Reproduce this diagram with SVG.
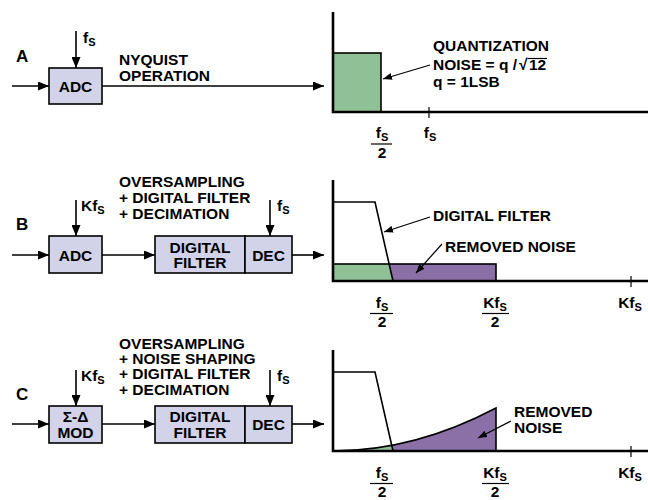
<svg xmlns="http://www.w3.org/2000/svg" width="648" height="500" viewBox="0 0 648 500">
<defs>
<marker id="ah" markerUnits="userSpaceOnUse" markerWidth="11" markerHeight="9" refX="11" refY="4.5" orient="auto"><path d="M0,0 L11,4.5 L0,9 z" fill="#000"/></marker>
<marker id="sh" markerUnits="userSpaceOnUse" markerWidth="9" markerHeight="7" refX="9" refY="3.5" orient="auto"><path d="M0,0 L9,3.5 L0,7 z" fill="#000"/></marker>
<style>
text{font-family:"Liberation Sans",Arial,sans-serif;font-weight:bold;font-size:15.5px;fill:#000}
.big{font-size:17px}
.sub{font-size:11px}
.c{text-anchor:middle}
.box{fill:#d2d3e8;stroke:#000;stroke-width:1.6}
.w{fill:none;stroke:#000;stroke-width:1.6}
.ar{fill:none;stroke:#000;stroke-width:1.6;marker-end:url(#ah)}
.cl{fill:none;stroke:#000;stroke-width:1.2;marker-end:url(#sh)}
.ax{fill:none;stroke:#000;stroke-width:2.6}
.g{fill:#90c096}
.p{fill:#8b70a8}
.t{stroke:#000;stroke-width:1.2}
</style>
</defs>

<g id="connectors">
<line class="ar" x1="12" y1="86" x2="49" y2="86"/>
<line class="ar" x1="76" y1="31" x2="76" y2="68"/>
<line class="ar" x1="102" y1="86" x2="324" y2="86"/>
<line class="ar" x1="12" y1="255" x2="49" y2="255"/>
<line class="ar" x1="76" y1="200" x2="76" y2="236"/>
<line class="ar" x1="102" y1="255" x2="155" y2="255"/>
<line class="ar" x1="270" y1="200" x2="270" y2="236"/>
<line class="ar" x1="292" y1="255" x2="324" y2="255"/>
<line class="ar" x1="12" y1="424" x2="49" y2="424"/>
<line class="ar" x1="76" y1="370" x2="76" y2="406"/>
<line class="ar" x1="102" y1="424" x2="155" y2="424"/>
<line class="ar" x1="270" y1="370" x2="270" y2="406"/>
<line class="ar" x1="292" y1="424" x2="324" y2="424"/>
</g>

<g id="labels-left">
<text class="big" x="16" y="62">A</text>
<text class="big" x="16" y="230">B</text>
<text class="big" x="16" y="400">C</text>
<text x="83" y="43">f<tspan class="sub" dy="2.5">S</tspan></text>
<text x="119" y="65">NYQUIST</text>
<text x="119" y="81">OPERATION</text>
<text x="81" y="211">Kf<tspan class="sub" dy="2.5">S</tspan></text>
<text x="277" y="211">f<tspan class="sub" dy="2.5">S</tspan></text>
<text x="119" y="187">OVERSAMPLING</text>
<text x="119" y="203">+ DIGITAL FILTER</text>
<text x="119" y="219">+ DECIMATION</text>
<text x="81" y="381">Kf<tspan class="sub" dy="2.5">S</tspan></text>
<text x="277" y="381">f<tspan class="sub" dy="2.5">S</tspan></text>
<text x="119" y="348.5">OVERSAMPLING</text>
<text x="119" y="364">+ NOISE SHAPING</text>
<text x="119" y="379">+ DIGITAL FILTER</text>
<text x="119" y="394.5">+ DECIMATION</text>
</g>

<g id="adcA"><rect class="box" x="49" y="68" width="53" height="36"/><text class="c" x="75.5" y="92">ADC</text></g>
<g id="adcB"><rect class="box" x="49" y="236" width="53" height="37"/><text class="c" x="75.5" y="260.5">ADC</text></g>
<g id="filterB"><rect class="box" x="155" y="236" width="90" height="37"/><text class="c" x="200" y="253">DIGITAL</text><text class="c" x="200" y="268">FILTER</text></g>
<g id="decB"><rect class="box" x="245" y="236" width="47" height="37"/><text class="c" x="268.5" y="260.5">DEC</text></g>
<g id="modC"><rect class="box" x="49" y="406" width="53" height="37"/><text class="c" x="75.5" y="422">Σ-Δ</text><text class="c" x="75.5" y="438">MOD</text></g>
<g id="filterC"><rect class="box" x="155" y="406" width="90" height="37"/><text class="c" x="200" y="422">DIGITAL</text><text class="c" x="200" y="438">FILTER</text></g>
<g id="decC"><rect class="box" x="245" y="406" width="47" height="37"/><text class="c" x="268.5" y="430">DEC</text></g>

<g id="chartA">
<rect class="g" x="333" y="53" width="48" height="59" stroke="#000" stroke-width="1.6"/>
<polyline class="ax" points="333,12 333,112 648,112"/>
<line class="t" x1="429" y1="107" x2="429" y2="118"/>
<text class="c" x="382" y="138">f<tspan class="sub" dy="2.5">S</tspan></text>
<line class="t" x1="371" y1="144" x2="392" y2="144"/>
<text class="c" x="382" y="158">2</text>
<text class="c" x="430" y="138">f<tspan class="sub" dy="2.5">S</tspan></text>
<text x="433" y="51">QUANTIZATION</text>
<text x="433" y="70">NOISE = q /<tspan x="519">√</tspan><tspan x="529">12</tspan></text>
<line class="t" x1="527.5" y1="58.5" x2="547" y2="58.5"/>
<text x="433" y="87">q = 1LSB</text>
<line class="cl" x1="430" y1="65" x2="383" y2="79"/>
</g>

<g id="chartB">
<polygon class="g" points="333,264 389.1,264 393,281 333,281"/>
<polygon class="p" points="389.1,264 496,264 496,281 393,281"/>
<rect class="w" x="333" y="264" width="163" height="17"/>
<polyline class="w" points="333,202 375,202 393,281"/>
<polyline class="ax" points="333,180 333,281 648,281"/>
<line class="t" x1="631" y1="276" x2="631" y2="287"/>
<text class="c" x="382" y="308">f<tspan class="sub" dy="2.5">S</tspan></text>
<line class="t" x1="370" y1="313.5" x2="393" y2="313.5"/>
<text class="c" x="382" y="327">2</text>
<text class="c" x="495" y="308">Kf<tspan class="sub" dy="2.5">S</tspan></text>
<line class="t" x1="482" y1="313.5" x2="509" y2="313.5"/>
<text class="c" x="495" y="327">2</text>
<text class="c" x="630" y="308">Kf<tspan class="sub" dy="2.5">S</tspan></text>
<text x="433" y="221">DIGITAL FILTER</text>
<line class="cl" x1="430" y1="217" x2="384" y2="232"/>
<text x="445" y="252">REMOVED NOISE</text>
<line class="cl" x1="442" y1="244" x2="416" y2="273"/>
</g>

<g id="chartC">
<path class="g" d="M333,451 Q362.3,451 391.7,445.4 L393,451 Z"/>
<path class="p" d="M391.7,445.4 Q443.8,435.5 496,408 L496,451 L393,451 Z"/>
<path class="w" d="M333,451 Q414.5,451 496,408 L496,451"/>
<polyline class="w" points="333,372 375,372 393,451"/>
<polyline class="ax" points="333,350 333,451 648,451"/>
<line class="t" x1="631" y1="446" x2="631" y2="457"/>
<text class="c" x="382" y="478">f<tspan class="sub" dy="2.5">S</tspan></text>
<line class="t" x1="370" y1="483.5" x2="393" y2="483.5"/>
<text class="c" x="382" y="497">2</text>
<text class="c" x="495" y="478">Kf<tspan class="sub" dy="2.5">S</tspan></text>
<line class="t" x1="482" y1="483.5" x2="509" y2="483.5"/>
<text class="c" x="495" y="497">2</text>
<text class="c" x="630" y="478">Kf<tspan class="sub" dy="2.5">S</tspan></text>
<text x="514" y="417">REMOVED</text>
<text x="514" y="433">NOISE</text>
<line class="cl" x1="511" y1="421" x2="478" y2="438"/>
</g>
</svg>
